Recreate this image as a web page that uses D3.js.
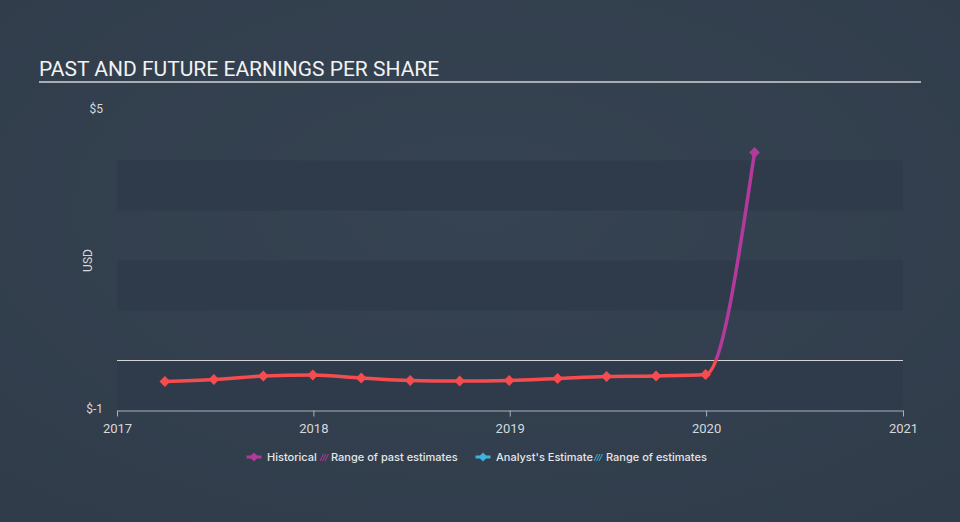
<!DOCTYPE html>
<html>
<head>
<meta charset="utf-8">
<script src="https://cdn.jsdelivr.net/npm/d3@7"></script>
<style>
  html, body { margin: 0; padding: 0; background: #344150; }
  svg { display: block; font-family: Roboto, "Noto Sans", sans-serif; }
</style>
</head>
<body>
<script>
// ---- data ----
const quarterDates = ["2017-03-31","2017-06-30","2017-09-30","2017-12-31","2018-03-31","2018-06-30","2018-09-30","2018-12-31","2019-03-31","2019-06-30","2019-09-30","2019-12-31","2020-03-31"];
const epsValues = [-0.42, -0.38, -0.31, -0.29, -0.35, -0.40, -0.41, -0.40, -0.36, -0.32, -0.31, -0.28, 4.16];
const xTickYears = ["2017","2018","2019","2020","2021"];
const yTickValues = [-1, 5];
const yTickLabels = ["$-1", "$5"];
const legendItems = ["Historical", "Range of past estimates", "Analyst's Estimate", "Range of estimates"];
const titleText = "PAST AND FUTURE EARNINGS PER SHARE";

// ---- setup ----
const W = 960, H = 522;
const svg = d3.select("body").append("svg").attr("width", W).attr("height", H);

const defs = svg.append("defs");
const bg = defs.append("radialGradient").attr("id", "bg").attr("cx", "50%").attr("cy", "40%").attr("r", "75%");
bg.append("stop").attr("offset", "0%").attr("stop-color", "#364352");
bg.append("stop").attr("offset", "100%").attr("stop-color", "#303c4a");
svg.append("rect").attr("width", W).attr("height", H).attr("fill", "url(#bg)");

const parse = d3.timeParse("%Y-%m-%d");
const data = quarterDates.map((d, i) => ({ date: parse(d), value: epsValues[i] }));

const x = d3.scaleTime()
  .domain([parse("2017-01-01"), parse("2021-01-01")])
  .range([117, 903]);
const y = d3.scaleLinear().domain([-1, 5]).range([410.5, 110.5]);

const RED = "#f64c4f", MAG = "#b3399c", CYAN = "#3cb4dd";

// bands
const bandPairs = [[-1, 0], [1, 2], [3, 4]];
svg.append("g").selectAll("rect").data(bandPairs).join("rect")
  .attr("x", x.range()[0]).attr("width", x.range()[1] - x.range()[0])
  .attr("y", d => y(d[1])).attr("height", d => y(d[0]) - y(d[1]))
  .attr("fill", "#2f3b4a");

// zero line
svg.append("line")
  .attr("x1", x.range()[0]).attr("x2", x.range()[1])
  .attr("y1", y(0)).attr("y2", y(0))
  .attr("stroke", "#d0d4d9").attr("stroke-width", 1);

// title
svg.append("text").attr("x", 39).attr("y", 76)
  .attr("fill", "#f2f2f2").attr("font-size", 21).text(titleText);
svg.append("line").attr("x1", 39).attr("x2", 921).attr("y1", 82).attr("y2", 82)
  .attr("stroke", "#a9adb2").attr("stroke-width", 2);

// y labels
svg.append("g").selectAll("text").data(yTickValues).join("text")
  .attr("x", 103).attr("y", d => y(d) + 2)
  .attr("text-anchor", "end").attr("fill", "#d6d9dc").attr("font-size", 12)
  .text((d, i) => yTickLabels[i]);
svg.append("text").attr("transform", `translate(92,${y(2)}) rotate(-90)`)
  .attr("text-anchor", "middle").attr("fill", "#d6d9dc").attr("font-size", 12).text("USD");

// x axis
const xAxis = d3.axisBottom(x)
  .tickValues(xTickYears.map(s => parse(s + "-01-01")))
  .tickFormat(d3.timeFormat("%Y"))
  .tickSize(6).tickSizeOuter(0);
const gx = svg.append("g").attr("transform", `translate(0,${y(-1)})`).call(xAxis);
gx.select(".domain").attr("stroke", "#a9b1bb");
gx.selectAll(".tick line").attr("stroke", "#a9b1bb");
gx.selectAll(".tick text").attr("fill", "#d6d9dc").attr("font-size", 13)
  .attr("font-family", "Roboto, sans-serif").attr("dy", "1em");

// line gradient
const zeroOff = (y(0) - y(5)) / (y(-1) - y(5));
const lg = defs.append("linearGradient").attr("id", "lineGrad")
  .attr("gradientUnits", "userSpaceOnUse")
  .attr("x1", 0).attr("x2", 0).attr("y1", y(5)).attr("y2", y(-1));
lg.append("stop").attr("offset", zeroOff).attr("stop-color", MAG);
lg.append("stop").attr("offset", zeroOff).attr("stop-color", RED);

const line = d3.line().x(d => x(d.date)).y(d => y(d.value)).curve(d3.curveMonotoneX);
svg.append("path").datum(data).attr("d", line)
  .attr("fill", "none").attr("stroke", "url(#lineGrad)").attr("stroke-width", 3.5)
  .attr("stroke-linejoin", "round");

const diamond = d3.symbol().type(d3.symbolSquare).size(58);
svg.append("g").selectAll("path").data(data).join("path")
  .attr("d", diamond)
  .attr("transform", d => `translate(${x(d.date)},${y(d.value)}) rotate(45)`)
  .attr("fill", d => d.value >= 0 ? MAG : RED);

// legend
const lgG = svg.append("g").attr("font-size", 11).attr("fill", "#e4e6e8")
  .attr("font-family", "Inter, Roboto, sans-serif").attr("font-weight", 500);
function legendMarker(cx, color) {
  lgG.append("line").attr("x1", cx - 7.5).attr("x2", cx + 7.5).attr("y1", 457).attr("y2", 457)
    .attr("stroke", color).attr("stroke-width", 3);
  lgG.append("path").attr("d", d3.symbol().type(d3.symbolSquare).size(40)())
    .attr("transform", `translate(${cx},457) rotate(45)`).attr("fill", color);
}
function hatch(x0, color) {
  for (let k = 0; k < 3; k++) {
    lgG.append("line").attr("x1", x0 + k * 2.5).attr("x2", x0 + k * 2.5 + 3.5)
      .attr("y1", 461).attr("y2", 454).attr("stroke", color).attr("stroke-width", 1);
  }
}
legendMarker(254, MAG);
lgG.append("text").attr("x", 267).attr("y", 461).text(legendItems[0]);
hatch(320, MAG);
lgG.append("text").attr("x", 331).attr("y", 461).text(legendItems[1]);
legendMarker(483, CYAN);
lgG.append("text").attr("x", 496).attr("y", 461).text(legendItems[2]);
hatch(594, CYAN);
lgG.append("text").attr("x", 606).attr("y", 461).text(legendItems[3]);
</script>
</body>
</html>
